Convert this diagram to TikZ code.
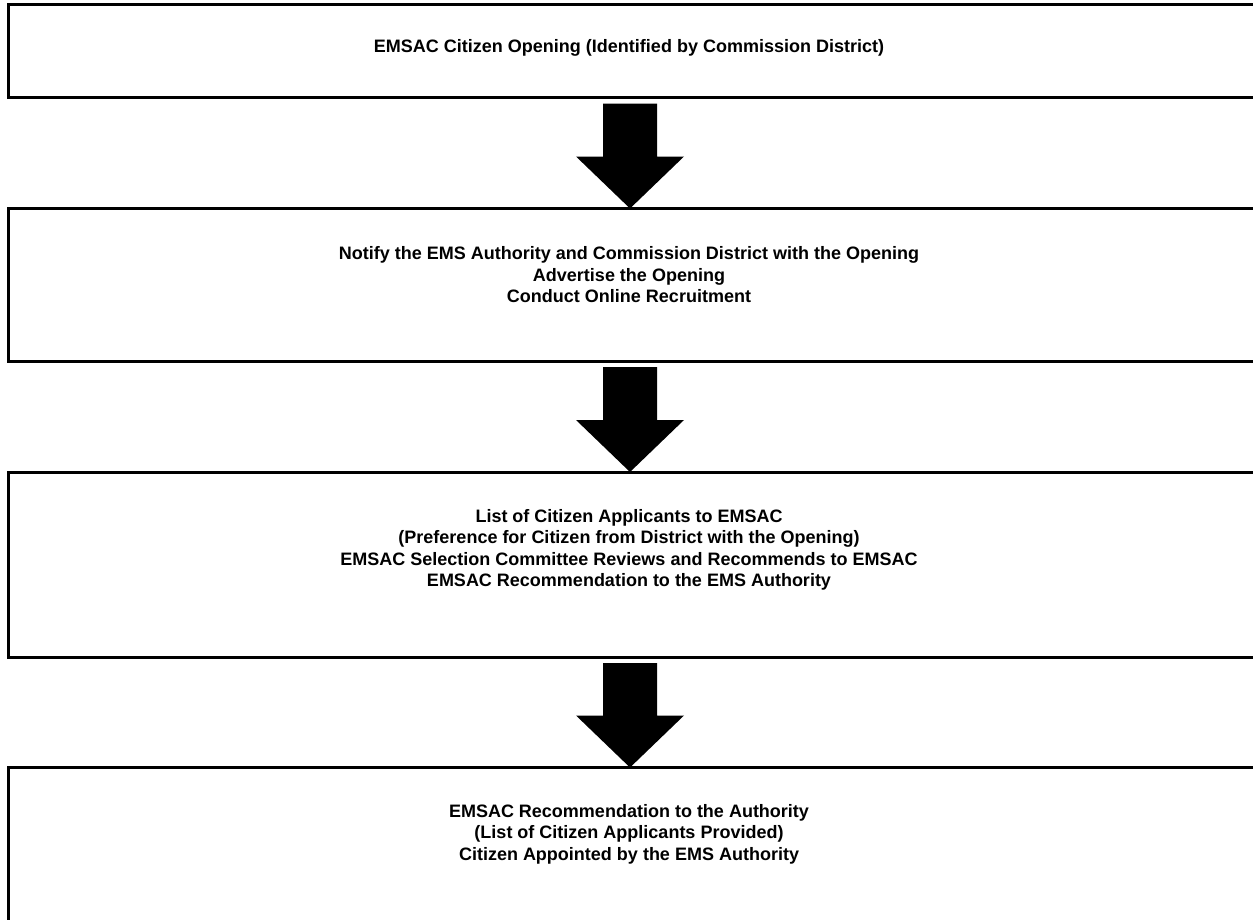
\documentclass[tikz,border=0pt]{standalone}
\usepackage{fontspec}
\setmainfont{Liberation Sans}
\usetikzlibrary{calc}
\tikzset{
  stagebox/.style={draw=black, line width=3pt, inner sep=0pt, outer sep=0pt,
    anchor=north west, minimum width=1260pt},
  stagetext/.style={align=center, inner sep=0pt, font=\bfseries\fontsize{18}{21.5}\selectfont},
  blockarrow/.style={fill=black}
}
\newcommand{\downarrowblock}[2]{%
  \fill[blockarrow] let \p1=(#1.south -| ax), \p2=(#2.north -| ax) in
    (\x1-27pt,\y1-6pt) -- (\x1+27pt,\y1-6pt) -- (\x1+27pt,\y2+52pt) --
    (\x1+54pt,\y2+52pt) -- (\x2,\y2) -- (\x1-54pt,\y2+52pt) --
    (\x1-27pt,\y2+52pt) -- cycle;}
\begin{document}
\begin{tikzpicture}[x=1pt,y=-1pt]
\useasboundingbox (0,0) rectangle (1253,919);
\fill[white] (0,0) rectangle (1253,919);
\coordinate (ax) at (630,0);

\node[stagebox, minimum height=93pt] (b1) at (8,4.5) {};
\node[stagebox, minimum height=152.5pt] (b2) at (8,208.5) {};
\node[stagebox, minimum height=185pt] (b3) at (8,472) {};
\node[stagebox, minimum height=200pt] (b4) at (8,767.5) {};

\node[stagetext] (t1) at (629,48) {EMSAC Citizen Opening (Identified by Commission District)};
\node[stagetext] (t2) at (629,275) {Notify the EMS Authority and Commission District with the Opening\\Advertise the Opening\\Conduct Online Recruitment};
\node[stagetext] (t3) at (629,550) {List of Citizen Applicants to EMSAC\\(Preference for Citizen from District with the Opening)\\EMSAC Selection Committee Reviews and Recommends to EMSAC\\EMSAC Recommendation to the EMS Authority};
\node[stagetext] (t4) at (629,834) {EMSAC Recommendation to the Authority\\(List of Citizen Applicants Provided)\\Citizen Appointed by the EMS Authority};

\downarrowblock{b1}{b2}
\downarrowblock{b2}{b3}
\downarrowblock{b3}{b4}
\end{tikzpicture}
\end{document}
